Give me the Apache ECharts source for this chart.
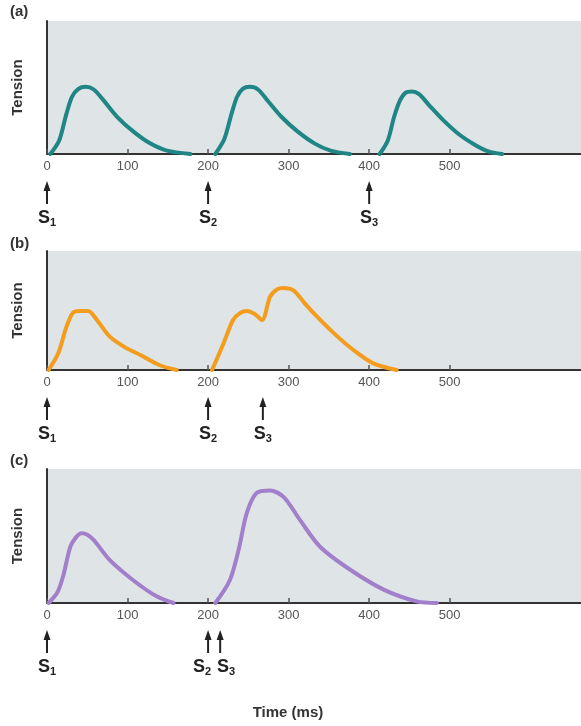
<!DOCTYPE html>
<html><head><meta charset="utf-8">
<script src="https://cdn.jsdelivr.net/npm/echarts@6/dist/echarts.min.js"></script>
<style>html,body{margin:0;padding:0;background:#fff}#c{width:581px;height:726px}</style>
</head><body><div id="c"></div>
<script>
// Tick labels shown on each time axis (ms)
const timeTicks = [0, 100, 200, 300, 400, 500];
// Panel (a): three separate twitches [ms, tension %]
const a1 = [[4,0],[15,10],[24,30],[31,43],[39,49],[48,50.5],[58,48.5],[70,40.5],[87,28],[107,17],[128,8],[149,2.5],[178,0]];
const a2 = [[209,0],[220,11],[229,30],[236,43],[243,49],[252,50.5],[262,48.5],[274,40],[291,28],[311,17],[332,8],[352,2.5],[376,0]];
const a3 = [[413,0],[423,10],[431,28],[438,40],[445,46],[453,47],[462,45],[474,37],[491,26],[511,15],[531,7],[548,2],[565,0]];
// Panel (b): summation
const b1 = [[2,0],[14,14],[24,36],[32,48],[40,49.6],[51,49.6],[62,42],[78,28],[97,19],[116,12.6],[140,4],[161,0]];
const b2 = [[205,0],[219,22],[231,42],[240,48],[248,49.6],[258,47],[267,42],[277,61.6],[286,68],[293,69],[306,67],[320,56],[335,45],[356,31],[380,17],[405,5.6],[434,0]];
// Panel (c): larger summation
const c1 = [[2,0],[13,8],[20,20],[29,42],[36,49],[43,52],[50,51],[58,47],[78,32],[107,17],[136,5],[157,0]];
const c2 = [[209,0],[227,17],[238,40],[248,67],[260,82],[277,84],[294,79],[314,62],[339,42],[376,25],[418,10],[459,1.2],[484,0]];
// Stimuli times and subscripts
const stimA = [0, 200, 400], stimSubA = ['1','2','3'];
const stimB = [0, 200, 268], stimSubB = ['1','2','3'];
const stimC = [0, 200, 215], stimSubC = ['1','2','3'];
const panelLabels = ['(a)','(b)','(c)'];

const chart = echarts.init(document.getElementById('c'));
const FONT = '"Liberation Sans", Arial, sans-serif';
const grids = [
  {left:47, right:0, top:21, height:133},
  {left:47, right:0, top:251, height:119},
  {left:47, right:0, top:469, height:134}
].map(g => Object.assign({show:true, backgroundColor:'#dfe5e7', borderWidth:0}, g));

const xAxes = grids.map((g,i) => ({
  type:'value', gridIndex:i, min:0, max:663,
  axisLine:{show:true, onZero:false, lineStyle:{color:'#333', width:2}},
  axisTick:{show:true, inside:true, length:5, customValues:timeTicks, lineStyle:{color:'#555', width:1.5}},
  axisLabel:{customValues:timeTicks, color:'#555', fontSize:13, fontFamily:FONT, margin:6},
  splitLine:{show:false}
}));
const yAxes = grids.map((g,i) => ({
  type:'value', gridIndex:i, min:0, max:100,
  name:'Tension', nameLocation:'middle', nameGap:22, nameRotate:90,
  nameTextStyle:{fontSize:15, fontWeight:'bold', color:'#333', fontFamily:FONT},
  axisLine:{show:true, lineStyle:{color:'#333', width:2}},
  axisTick:{show:false}, axisLabel:{show:false}, splitLine:{show:false}
}));

function curve(data, i, color){
  return {type:'line', xAxisIndex:i, yAxisIndex:i, data:data, smooth:0.3, showSymbol:false,
    lineStyle:{color:color, width:4, cap:'round', join:'round'}, animation:false, z:3};
}
function stim(times, subs, i){
  return {type:'custom', xAxisIndex:i, yAxisIndex:i, clip:false, animation:false, z:5,
    data: times.map(t => [t, 0]),
    renderItem: function(params, api){
      const k = params.dataIndex;
      const p = api.coord([api.value(0), 0]);
      let dx = 0; const minGap = 24;
      if (k+1 < times.length){ const n = api.coord([times[k+1],0])[0]; if (n-p[0] < minGap) dx -= (minGap-(n-p[0]))/2; }
      if (k > 0){ const q = api.coord([times[k-1],0])[0]; if (p[0]-q < minGap) dx += (minGap-(p[0]-q))/2; }
      return {type:'group', children:[
        {type:'line', shape:{x1:p[0], y1:p[1]+33, x2:p[0], y2:p[1]+50}, style:{stroke:'#222', lineWidth:2}},
        {type:'polygon', shape:{points:[[p[0],p[1]+27],[p[0]-3.5,p[1]+37],[p[0]+3.5,p[1]+37]]}, style:{fill:'#222'}},
        {type:'text', x:p[0]+dx, y:p[1]+64, style:{
          text:'{s|S}{n|'+subs[k]+'}', align:'center', verticalAlign:'middle',
          rich:{s:{fontSize:18, fontWeight:'bold', fontFamily:FONT, fill:'#222'},
                n:{fontSize:11, fontWeight:'bold', fontFamily:FONT, fill:'#222', padding:[9,0,0,0]}}}}
      ]};
    }};
}

const option = {
  animation:false,
  grid: grids, xAxis: xAxes, yAxis: yAxes,
  series: [
    curve(a1,0,'#1f8585'), curve(a2,0,'#1f8585'), curve(a3,0,'#1f8585'),
    curve(b1,1,'#f39c1e'), curve(b2,1,'#f39c1e'),
    curve(c1,2,'#a27fcb'), curve(c2,2,'#a27fcb'),
    stim(stimA, stimSubA, 0), stim(stimB, stimSubB, 1), stim(stimC, stimSubC, 2)
  ],
  graphic: [
    {type:'text', left:10, top:4, style:{text:panelLabels[0], fontSize:15, fontWeight:'bold', fill:'#333', fontFamily:FONT}},
    {type:'text', left:10, top:236, style:{text:panelLabels[1], fontSize:15, fontWeight:'bold', fill:'#333', fontFamily:FONT}},
    {type:'text', left:10, top:453, style:{text:panelLabels[2], fontSize:15, fontWeight:'bold', fill:'#333', fontFamily:FONT}},
    {type:'text', x:288, y:713, style:{text:'Time (ms)', fontSize:15, fontWeight:'bold', fill:'#333', fontFamily:FONT, align:'center', verticalAlign:'middle'}}
  ]
};
chart.setOption(option);
</script></body></html>
